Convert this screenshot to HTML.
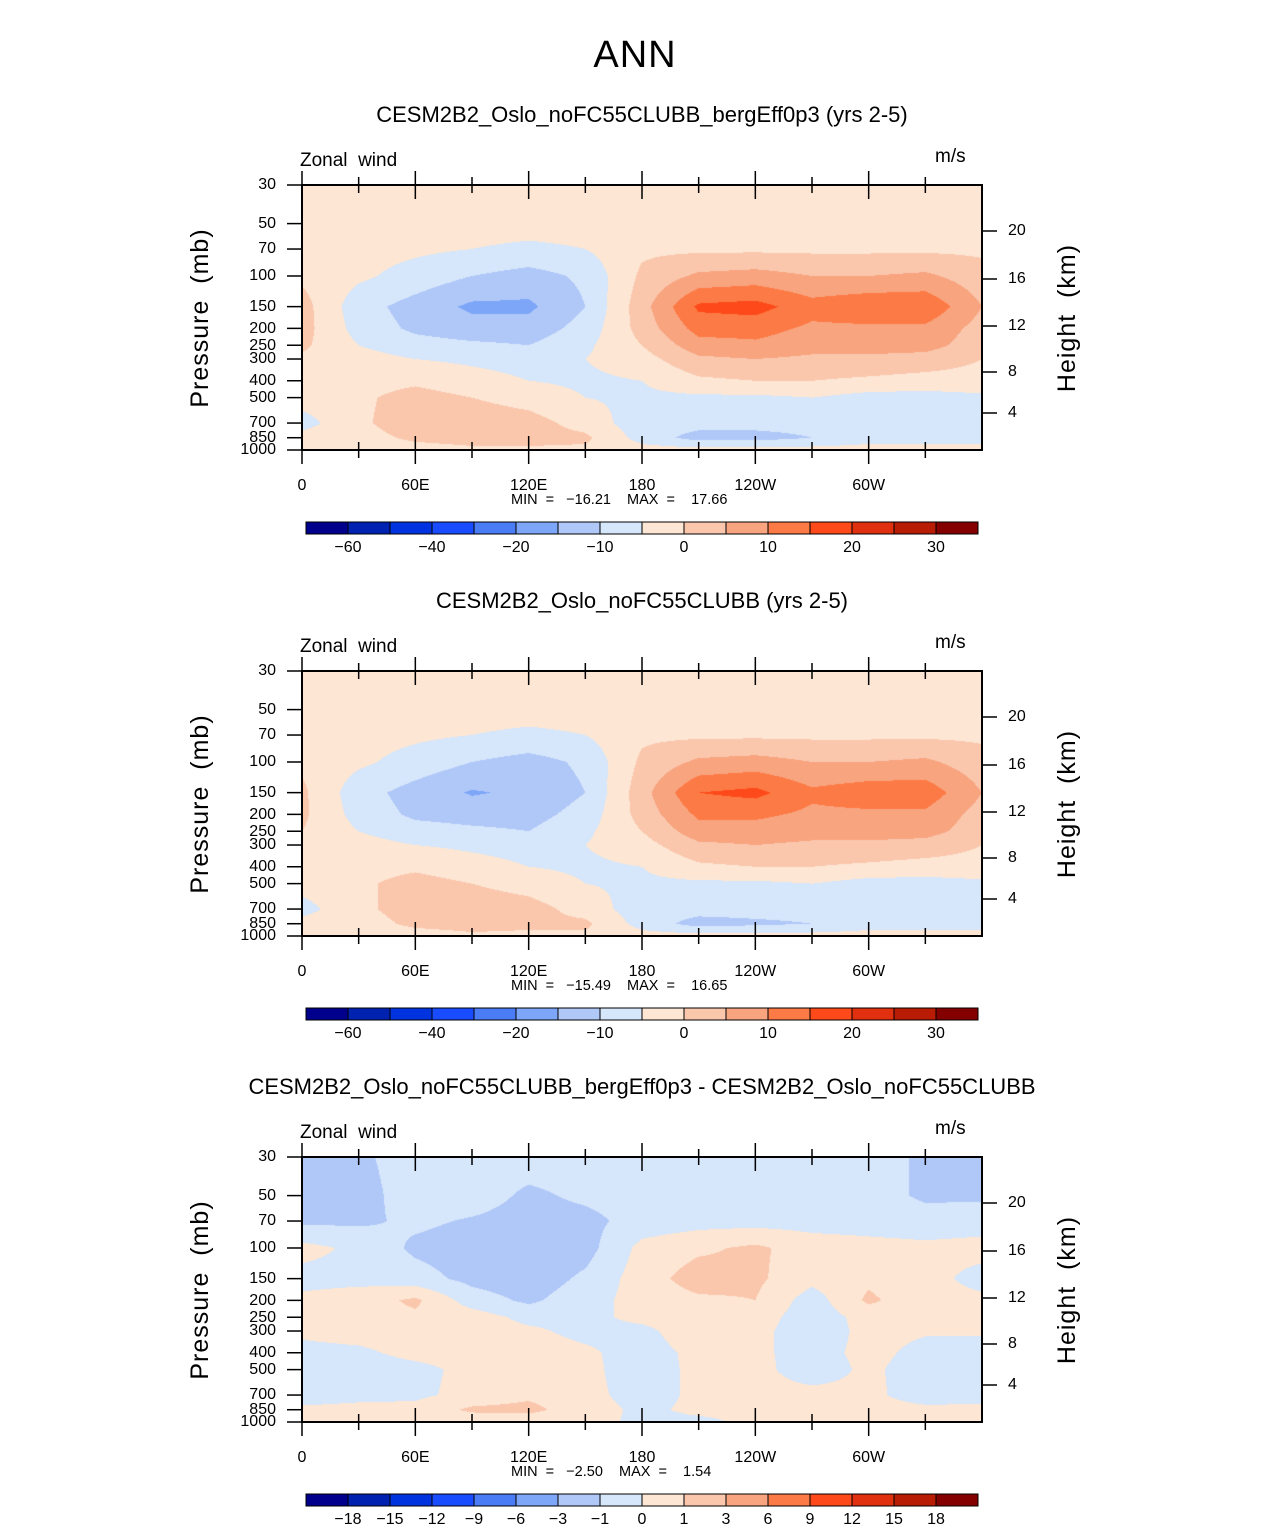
<!DOCTYPE html>
<html><head><meta charset="utf-8"><style>
html,body{margin:0;padding:0;overflow:hidden}
body{background:#fff;width:1285px;height:1531px;position:relative;font-family:"Liberation Sans","DejaVu Sans",sans-serif;}
.t{position:absolute;white-space:pre;color:#000}
canvas{position:absolute}
svg{position:absolute;left:0;top:0}
</style></head><body>
<div class="t" style="left:0;width:1270px;text-align:center;top:34px;font-size:38px;font-weight:300;letter-spacing:1px">ANN</div>
<div id="root"></div>
<script>
const pLevels=[30,50,70,100,150,200,250,300,400,500,700,850,1000];
const lons=[0,30,60,90,120,150,180,210,240,270,300,330,360];
// columns by longitude, each lists values at pLevels
const panel1Values=[
[-2,-2,-2,-1,2,2,1,-1,-2,-3,-7,-3,-1],
[-2,-2,-3,-4,-8,-7,-5,-3,-2,-1,-1,-2,-2],
[-2,-2,-4,-7,-12,-11,-8,-5,-1,2,3,1,-2],
[-2,-3,-5,-10,-16,-13,-9,-6,-3,0,3,2,-1],
[-2,-3,-6,-12,-16,-13,-10,-7,-5,-2,2,2,-1],
[-2,-3,-5,-9,-10,-8,-6,-5,-6,-5,-2,1,-1],
[-2,-2,-1,1,3,2,0,-2,-5,-6,-8,-7,-3],
[-2,-1,-1,6,16,12,8,4,-1,-6,-8,-12,-3],
[-2,-1,-1,7,17,12,9,5,0,-6,-8,-12,-3],
[-2,-1,-1,5,12,9,7,4,0,-5,-8,-10,-3],
[-2,-1,-1,5,14,9,7,4,-1,-7,-8,-7,-3],
[-2,-1,-1,6,14,9,7,3,-2,-7,-8,-7,-3],
[-2,-2,-1,2,5,3,2,0,-2,-6,-8,-7,-3]];
const panel2Values=[
[-2,-2,-2,-1,1,1,0,-1,-2,-3,-7,-3,-1],
[-2,-2,-3,-4,-8,-7,-5,-3,-2,-1,-1,-2,-2],
[-2,-2,-4,-7,-12,-11,-8,-5,-1,2,2,1,-2],
[-2,-3,-5,-10,-15.5,-12,-9,-6,-3,0,3,2,-1],
[-2,-3,-6,-12,-14,-12,-10,-7,-5,-2,2,1,-1],
[-2,-3,-5,-9,-10,-8,-6,-5,-6,-5,-2,1,-1],
[-2,-2,-1,1,3,2,0,-2,-5,-6,-8,-7,-3],
[-2,-1,-1,6,15,11,8,4,-1,-6,-8,-12,-3],
[-2,-1,-1,7,16.5,11,8,5,0,-6,-8,-11,-3],
[-2,-1,-1,5,11,9,7,4,0,-5,-8,-10,-3],
[-2,-1,-1,5,13,9,7,4,-1,-7,-8,-7,-3],
[-2,-1,-1,6,13,9,7,3,-2,-7,-8,-7,-3],
[-2,-2,-1,2,5,3,2,0,-2,-6,-8,-7,-3]];
const panel3Values=[
[-1.5,-1.5,-1.2,0.3,-0.3,0.2,0.3,0.2,-0.3,-0.5,-0.5,0.2,0.2],
[-1.2,-1.4,-1.2,-0.2,-0.3,0.5,0.6,0.4,-0.2,-0.5,-0.3,0.3,0.2],
[-0.5,-0.5,-0.8,-1.2,-0.6,1.2,0.8,0.5,0.3,-0.3,-0.2,0.3,0.2],
[-0.5,-0.5,-1.1,-1.5,-1.3,-0.5,0.5,0.5,0.4,0.3,0.3,1.2,0.3],
[-0.5,-1.2,-1.4,-1.8,-1.6,-1.2,-0.3,0.2,0.5,0.6,0.8,1.3,0.3],
[-0.5,-0.8,-1.3,-1.4,-0.8,-0.4,-0.3,-0.3,0.2,0.3,0.3,0.4,0.3],
[-0.4,-0.5,-0.6,0.3,0.5,0.4,0.3,-0.3,-0.5,-0.6,-0.4,-0.2,-0.2],
[-0.4,-0.5,-0.4,0.8,1.5,0.8,0.7,0.7,0.3,0.3,0.2,0.2,-0.2],
[-0.4,-0.5,-0.4,1.2,1.2,1.0,0.5,0.3,0.2,0.3,0.3,0.2,0.2],
[-0.5,-0.5,-0.4,0.5,0.3,-0.5,-0.6,-0.6,-0.4,-0.5,0.3,0.3,0.2],
[-0.5,-0.5,-0.4,0.3,0.8,1.2,0.4,0.3,0.3,0.2,0.2,0.3,0.2],
[-1.2,-1.2,-0.5,0.2,0.3,0.3,0.2,0.1,-0.3,-0.5,-0.4,0.2,0.2],
[-1.2,-1.2,-0.4,0.3,-0.3,0.2,0.2,0.1,-0.3,-0.4,-0.3,0.2,0.2]];
const levelsAbs=[-60,-50,-40,-30,-20,-15,-10,-5,0,5,10,15,20,25,30];
const levelsDiff=[-18,-15,-12,-9,-6,-3,-1,0,1,3,6,9,12,15,18];
const cbLabelsAbs=["−60","","−40","","−20","","−10","","0","","10","","20","","30"];
const cbLabelsDiff=["−18","−15","−12","−9","−6","−3","−1","0","1","3","6","9","12","15","18"];
const colors=["#00008c","#0022b0","#0033e0","#1a4cff","#4a7df5","#7da6f8","#b0c8f8","#d6e6fb","#fde6d3","#fac7ad","#f8a47f","#fc7a45","#fe4a1a","#e03010","#b81c05","#840000"];
const subtitles=["CESM2B2_Oslo_noFC55CLUBB_bergEff0p3 (yrs 2-5)","CESM2B2_Oslo_noFC55CLUBB (yrs 2-5)","CESM2B2_Oslo_noFC55CLUBB_bergEff0p3 - CESM2B2_Oslo_noFC55CLUBB"];
const minmax=[["−16.21","17.66"],["−15.49","16.65"],["−2.50","1.54"]];
const panels=[panel1Values,panel2Values,panel3Values];
const pTickLabels=[30,50,70,100,150,200,250,300,400,500,700,850,1000];
const kmTicks=[4,8,12,16,20];
const kmY=[413,372,326,279,231];
const lonTickLabels=["0","60E","120E","180","120W","60W"];

const X0=302,W=680,H=265;
const L30=Math.log(30),L1000=Math.log(1000);
function yScale(p){return (Math.log(p)-L30)/(L1000-L30)*H;}
function xScale(lon){return lon/360*W;}
function hex(c){return [parseInt(c.substr(1,2),16),parseInt(c.substr(3,2),16),parseInt(c.substr(5,2),16)];}
const root=document.getElementById('root');
const NS="http://www.w3.org/2000/svg";
const svg=document.createElementNS(NS,'svg');svg.setAttribute('width',1285);svg.setAttribute('height',1531);
function txt(x,y,s,size,anchor,extra,hw){const d=document.createElement('div');d.className='t';d.textContent=s;
 d.style.fontSize=size+'px';d.style.top=(y-size*0.6)+'px';d.style.lineHeight='1.2';
 if(anchor==='middle'){hw=hw||500;d.style.left=(x-hw)+'px';d.style.width=(2*hw)+'px';d.style.textAlign='center';}
 else if(anchor==='end'){d.style.left=(x-300)+'px';d.style.width='300px';d.style.textAlign='right';}
 else d.style.left=x+'px';
 if(extra)Object.assign(d.style,extra);root.appendChild(d);return d;}
function line(x1,y1,x2,y2,w){const l=document.createElementNS(NS,'line');l.setAttribute('x1',x1);l.setAttribute('y1',y1);l.setAttribute('x2',x2);l.setAttribute('y2',y2);l.setAttribute('stroke','#000');l.setAttribute('stroke-width',w||1.5);svg.appendChild(l);return l;}

panels.forEach((data,pi)=>{
 const off=pi*486, Y0=185+off;
 const lv=pi===2?levelsDiff:levelsAbs;
 const st=txt(642,115+off,subtitles[pi],22,'middle');
 
 const cv=document.createElement('canvas');cv.width=W;cv.height=H;cv.style.left=X0+'px';cv.style.top=Y0+'px';
 
 root.appendChild(cv);
 const ctx=cv.getContext('2d');const img=ctx.createImageData(W,H);
 const rgb=colors.map(hex);
 const rowY=pLevels.map(yScale);
 for(let y=0;y<H;y++){
  const yy=y+0.5;let r=0;while(r<rowY.length-2&&yy>rowY[r+1])r++;
  const fy=Math.min(1,Math.max(0,(yy-rowY[r])/(rowY[r+1]-rowY[r])));
  for(let x=0;x<W;x++){
   const gx=(x+0.5)/W*(lons.length-1);const c=Math.min(lons.length-2,Math.floor(gx));const fx=gx-c;
   const v=(data[c][r]*(1-fx)+data[c+1][r]*fx)*(1-fy)+(data[c][r+1]*(1-fx)+data[c+1][r+1]*fx)*fy;
   let i=0;while(i<lv.length&&v>=lv[i])i++;const k=(y*W+x)*4;const cc=rgb[i];
   img.data[k]=cc[0];img.data[k+1]=cc[1];img.data[k+2]=cc[2];img.data[k+3]=255;}
 }
 ctx.putImageData(img,0,0);
 const fr=document.createElementNS(NS,'rect');fr.setAttribute('x',X0);fr.setAttribute('y',Y0);fr.setAttribute('width',W);fr.setAttribute('height',H);fr.setAttribute('fill','none');fr.setAttribute('stroke','#000');fr.setAttribute('stroke-width',2);
 svg.appendChild(fr);
 for(let lon=0;lon<=330;lon+=30){const x=X0+xScale(lon);const maj=lon%60===0;const len=maj?14:8;
  line(x,Y0,x,Y0+(lon===0?0:len));line(x,Y0-len,x,Y0);line(x,Y0+H,x,Y0+H+len);line(x,Y0+H-len,x,Y0+H);}
 lonTickLabels.forEach((s,i)=>{const t=txt(X0+xScale(i*60),486+off,s,16,'middle',null,40);});
 pTickLabels.forEach(p=>{const y=Y0+yScale(p);line(X0-15,y,X0,y);const t=txt(276,y,String(p),16,'end');});
 kmTicks.forEach((k,i)=>{const y=kmY[i]+off;line(X0+W,y,X0+W+15,y);const t=txt(1008,y,String(k),16);});
 let t=txt(300,161+off,"Zonal  wind",19);
 t=txt(935,157+off,"m/s",19);
 t=txt(200,318+off,"Pressure  (mb)",25,'middle',{transform:'rotate(-90deg)',letterSpacing:'1px'},110);
 t=txt(1067,318+off,"Height  (km)",25,'middle',{transform:'rotate(-90deg)',letterSpacing:'1px'},110);
 t=txt(511,501+off,"MIN  =   "+minmax[pi][0]+"    MAX  =    "+minmax[pi][1],14.5);
 const cy=522+off;
 colors.forEach((c,i)=>{const r=document.createElementNS(NS,'rect');r.setAttribute('x',306+i*42);r.setAttribute('y',cy);r.setAttribute('width',42);r.setAttribute('height',12);r.setAttribute('fill',c);r.setAttribute('stroke','#000');r.setAttribute('stroke-width',1);
  svg.appendChild(r);});
 const labs=pi===2?cbLabelsDiff:cbLabelsAbs;
 labs.forEach((s,i)=>{if(!s)return;const t=txt(348+i*42,548+off,s,16,'middle',null,30);});
});
root.appendChild(svg);
</script>
</body></html>
